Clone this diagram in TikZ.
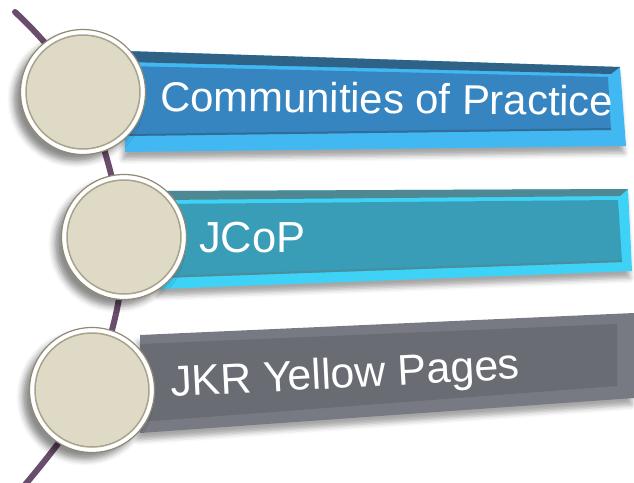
\documentclass[tikz,border=0pt]{standalone}
\usepackage{fontspec}
\setmainfont{Liberation Sans}
\usetikzlibrary{shadows.blur}
\definecolor{linkc}{HTML}{6A4C6C}
\definecolor{bluelt}{HTML}{42B8F3}
\definecolor{bluedk}{HTML}{2E6387}
\definecolor{bluefc}{HTML}{3685C1}
\definecolor{teallt}{HTML}{3ED2F6}
\definecolor{tealdk}{HTML}{4E8893}
\definecolor{tealfc}{HTML}{3A9DB7}
\definecolor{graylt}{HTML}{777A83}
\definecolor{grayfc}{HTML}{696C73}
\definecolor{beige}{HTML}{DEDAC6}
\definecolor{rim}{HTML}{8E8A74}
\definecolor{rimin}{HTML}{A9A38B}
\tikzset{
  link/.style={draw=linkc, line width=6pt, line cap=round},
  barshadow/.style={blur shadow={shadow xshift=-2pt, shadow yshift=-7pt, shadow blur radius=5pt, shadow opacity=35}},
  disc/.style={circle, minimum size=125pt, inner sep=0pt, fill=white, draw=rim, line width=1.2pt,
     blur shadow={shadow xshift=-7pt, shadow yshift=-7pt, shadow blur radius=6pt, shadow opacity=45}},
  inner/.style={circle, minimum size=114pt, inner sep=0pt, fill=beige, draw=rimin, line width=1.5pt},
  label/.style={text=white, inner sep=0pt, anchor=base west}
}
\begin{document}
\begin{tikzpicture}[x=1pt,y=-1pt]
\useasboundingbox (0,0) rectangle (634,482);
% connector path coordinates
\coordinate (s) at (15,12);
\coordinate (k1) at (83,92);
\coordinate (k2) at (124,237);
\coordinate (k3) at (92,390);
\coordinate (e) at (24,486);
\draw[link] (s) .. controls (40,35) and (65,65) .. (k1)
  .. controls (100,130) and (115,180) .. (k2)
  .. controls (124,290) and (115,330) .. (k3)
  .. controls (78,420) and (50,455) .. (e);
% bar 1
\fill[bluelt, barshadow] (125,51) -- (620,67) -- (626,146) -- (125,152) -- cycle;
\fill[bluedk] (125,51) -- (620,67) -- (611,74) -- (125,62) -- cycle;
\fill[bluefc] (125,66) -- (608,77) -- (611,130) -- (125,136) -- cycle;
\draw[bluedk, line width=2pt, opacity=0.7] (125,135) -- (611,129);
% bar 2
\fill[teallt, barshadow] (160,191) -- (628,189) -- (632,271) -- (160,289) -- cycle;
\fill[tealdk] (160,191) -- (628,189) -- (620,196) -- (160,200) -- cycle;
\fill[tealfc] (160,204) -- (618,200) -- (622,262) -- (160,278) -- cycle;
\draw[tealdk, line width=2pt, opacity=0.7] (160,277) -- (622,261);
% bar 3
\fill[graylt, barshadow] (140,335) -- (634,313) -- (634,398) -- (140,433) -- cycle;
\fill[grayfc] (140,344) -- (617,324) -- (617,386) -- (140,422) -- cycle;
% texts
\node[label, font=\fontsize{41.8}{44}\selectfont, rotate=-0.6] (t1) at (160,111) {Communities of Practice};
\node[label, font=\fontsize{43.5}{46}\selectfont] (t2) at (199,252) {JCoP};
\node[label, font=\fontsize{43}{46}\selectfont, rotate=3] (t3) at (171,397) {JKR Yellow Pages};
% circles
\node[disc] (c1) at (k1) {};
\node[inner] (d1) at (c1.center) {};
\node[disc] (c2) at (k2) {};
\node[inner] (d2) at (c2.center) {};
\node[disc] (c3) at (k3) {};
\node[inner] (d3) at (c3.center) {};
\end{tikzpicture}
\end{document}
